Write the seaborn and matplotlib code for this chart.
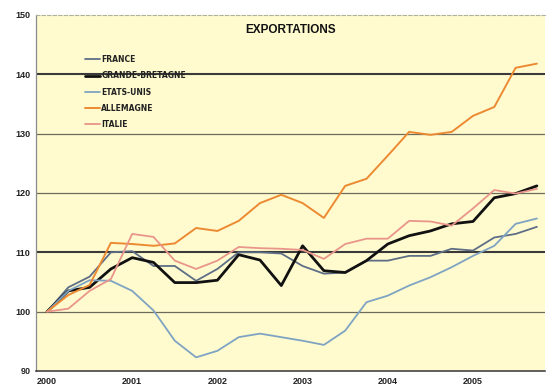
import numpy as np
import pandas as pd
import matplotlib
matplotlib.use("Agg")
import matplotlib.pyplot as plt
import seaborn as sns
from matplotlib.lines import Line2D

# Quarterly export indices, base 100 = 2000 Q1
quarters = [2000 + q / 4 for q in range(24)]
year_labels = ["2000", "2001", "2002", "2003", "2004", "2005"]
countries = ["FRANCE", "GRANDE-BRETAGNE", "ETATS-UNIS", "ALLEMAGNE", "ITALIE"]

france = [100, 104.1, 105.9, 110.0, 110.2, 107.7, 107.7, 105.2, 107.2, 110.0, 110.0, 109.8,
          107.7, 106.4, 106.6, 108.6, 108.6, 109.4, 109.4, 110.6, 110.3, 112.5, 113.1, 114.3]
grande_bretagne = [100, 103.5, 104.1, 107.2, 109.1, 108.3, 104.9, 104.9, 105.3, 109.6, 108.7, 104.4,
                   111.1, 106.9, 106.6, 108.6, 111.4, 112.8, 113.6, 114.8, 115.2, 119.2, 119.9, 121.2]
etats_unis = [100, 103.5, 105.3, 105.2, 103.5, 100.2, 95.1, 92.3, 93.4, 95.7, 96.3, 95.7,
              95.1, 94.4, 96.8, 101.6, 102.7, 104.4, 105.8, 107.5, 109.4, 111.1, 114.8, 115.7]
allemagne = [100, 102.8, 104.5, 111.6, 111.4, 111.1, 111.5, 114.1, 113.6, 115.3, 118.3, 119.7,
             118.3, 115.8, 121.2, 122.4, 126.3, 130.3, 129.8, 130.3, 133.0, 134.5, 141.1, 141.8]
italie = [100, 100.5, 103.5, 105.5, 113.1, 112.6, 108.6, 107.2, 108.6, 110.9, 110.7, 110.6,
          110.4, 108.9, 111.4, 112.3, 112.3, 115.3, 115.2, 114.5, 117.4, 120.5, 119.9, 120.7]

series = [france, grande_bretagne, etats_unis, allemagne, italie]
df = pd.DataFrame({
    "trimestre": np.tile(quarters, len(countries)),
    "indice": np.concatenate(series),
    "pays": np.repeat(countries, len(quarters)),
})

palette = {
    "FRANCE": "#5d6e86",
    "GRANDE-BRETAGNE": "#111111",
    "ETATS-UNIS": "#7fa3c2",
    "ALLEMAGNE": "#ec8a32",
    "ITALIE": "#e9958a",
}
widths = {"FRANCE": 1.3, "GRANDE-BRETAGNE": 2.0, "ETATS-UNIS": 1.3, "ALLEMAGNE": 1.4, "ITALIE": 1.3}

sns.set_theme(style="white")
plt.rcParams["font.family"] = ["Liberation Sans", "DejaVu Sans"]

fig = plt.figure(figsize=(5.48, 3.85), dpi=100)
ax = fig.add_axes([36 / 548, 1 - 371 / 385, (545 - 36) / 548, (371 - 15) / 385])
ax.set_facecolor("#fffbcf")

sns.lineplot(data=df, x="trimestre", y="indice", hue="pays", hue_order=countries,
             palette=palette, ax=ax, legend=False, zorder=3)
for line, name in zip(ax.get_lines(), countries):
    line.set_linewidth(widths[name])

ax.set_xlim(2000 - 11 / 85.2, 2000 + 498 / 85.2)
ax.set_ylim(90, 150)
ax.set_yticks(range(90, 151, 10))
ax.set_yticklabels([str(v) for v in range(90, 151, 10)], fontsize=6.5, fontweight="bold",
                   color="#222222")
ax.set_xticks(range(2000, 2006))
ax.set_xticklabels(year_labels, fontsize=6.5, fontweight="bold", color="#222222")
ax.tick_params(axis="both", length=2, width=0.6, color="#666666", pad=2)
ax.tick_params(axis="x", pad=2.5)
ax.set_xlabel("")
ax.set_ylabel("")

# horizontal reference lines
for v in range(100, 141, 10):
    heavy = v in (110, 140)
    ax.axhline(v, color="#3a3a3a" if heavy else "#6b6b5e", lw=1.5 if heavy else 0.9, zorder=1)

ax.spines["right"].set_visible(False)
ax.spines["top"].set_color("#b0b0a0")
ax.spines["top"].set_linestyle((0, (3, 2)))
ax.spines["top"].set_linewidth(0.8)
ax.spines["left"].set_color("#8a8a8a")
ax.spines["left"].set_linewidth(0.9)
ax.spines["bottom"].set_color("#333333")
ax.spines["bottom"].set_linewidth(1.1)

ax.text(0.5, 0.975, "EXPORTATIONS", transform=ax.transAxes, ha="center", va="top",
        fontsize=8.5, fontweight="bold", color="#111111")

handles = [Line2D([0], [0], color=palette[c], lw=widths[c]) for c in countries]
leg = ax.legend(handles, countries, loc="upper left", bbox_to_anchor=(49 / 509, 1 - 40 / 356),
                frameon=False, handlelength=1.9, handletextpad=0.25, labelspacing=0.95,
                borderaxespad=0, borderpad=0,
                prop={"family": "Liberation Sans Narrow", "weight": "bold", "size": 5.5})
for t in leg.get_texts():
    t.set_color("#222222")

fig.savefig("out.png", dpi=100, facecolor="white")
